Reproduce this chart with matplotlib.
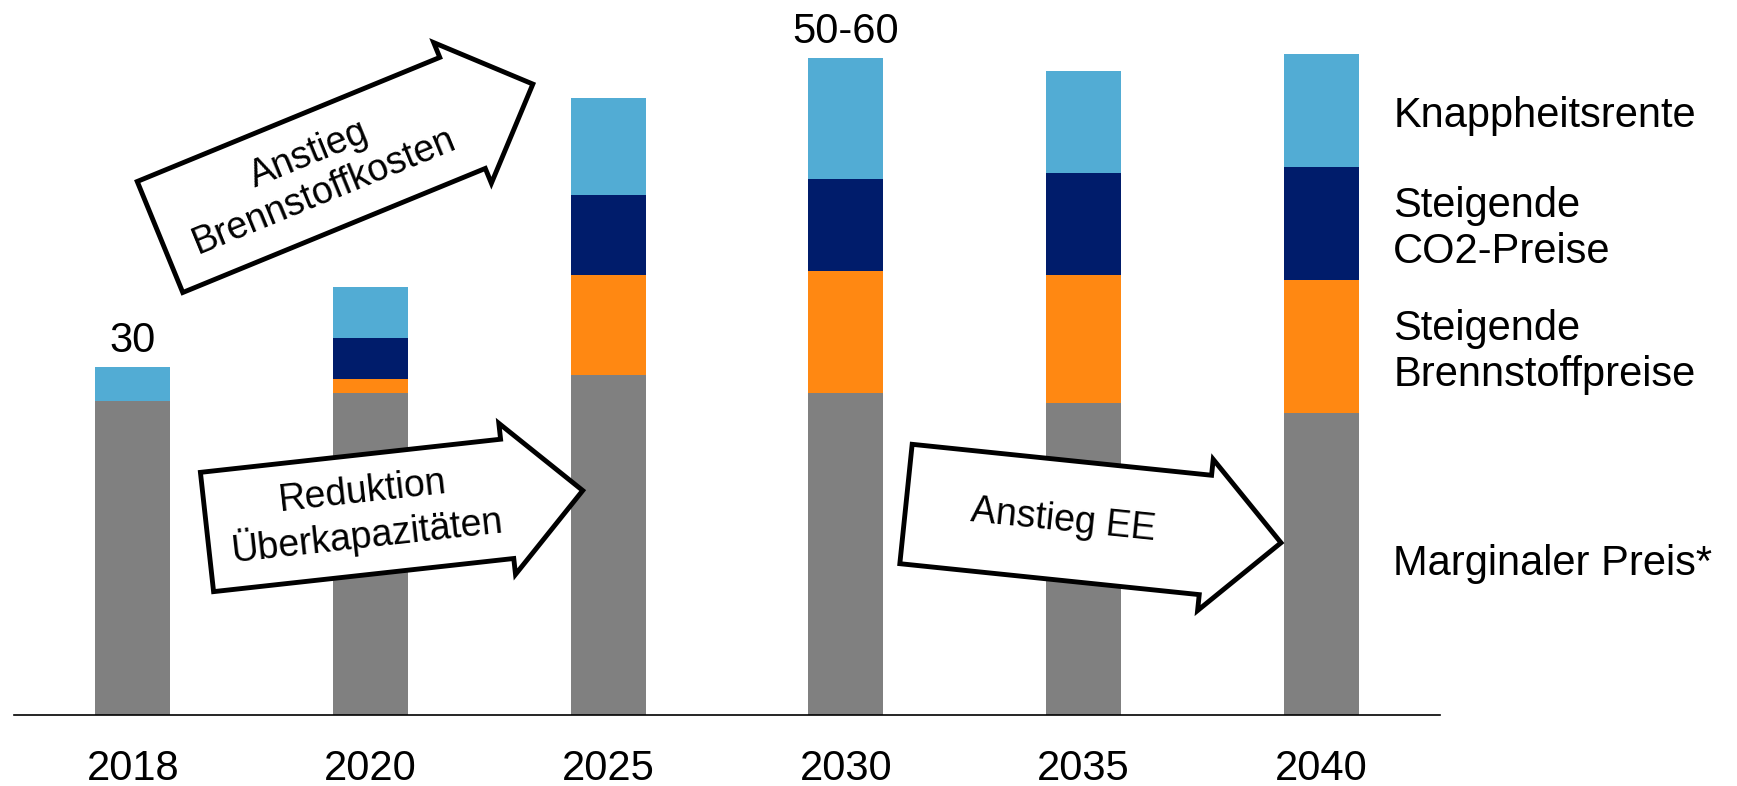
import math

import matplotlib
matplotlib.use("Agg")
import matplotlib.pyplot as plt
from matplotlib.patches import Polygon
from matplotlib.transforms import Affine2D

plt.rcParams["font.family"] = ["Liberation Sans", "DejaVu Sans"]

# --- data -------------------------------------------------------------------
years = ["2018", "2020", "2025", "2030", "2035", "2040"]
marginal = [27.1, 27.8, 29.3, 27.8, 26.9, 26.0]
fuel = [0.0, 1.2, 8.6, 10.5, 11.0, 11.5]
co2 = [0.0, 3.5, 6.9, 7.9, 8.8, 9.7]
scarcity = [2.9, 4.4, 8.4, 10.4, 8.8, 9.8]

series_labels = [
    "Marginaler Preis*",
    "Steigende\nBrennstoffpreise",
    "Steigende\nCO2-Preise",
    "Knappheitsrente",
]
series_colors = ["#808080", "#FF8812", "#001C6B", "#52ACD4"]

top_labels = {0: "30", 3: "50-60"}

# block arrows: text, tail centre (px from top-left), length, angle (deg)
arrows = [
    ("Anstieg\nBrennstoffkosten", (160, 237), 403, 22.3),
    ("Reduktion\nÜberkapazitäten", (207, 532), 378, 6.3),
    ("Anstieg EE", (906, 504), 377, -5.9),
]

W, H, DPI = 1737, 786, 100
BAR_W = 0.315


def block_arrow_points(tail, length, angle, shaft_w=120, head_w=152, head_len=76):
    a = math.radians(angle)
    u = (math.cos(a), -math.sin(a))
    n = (math.sin(a), math.cos(a))
    local = [
        (0, -shaft_w / 2),
        (length - head_len, -shaft_w / 2),
        (length - head_len, -head_w / 2),
        (length, 0),
        (length - head_len, head_w / 2),
        (length - head_len, shaft_w / 2),
        (0, shaft_w / 2),
    ]
    return [(tail[0] + s * u[0] + t * n[0], tail[1] + s * u[1] + t * n[1]) for s, t in local]


fig = plt.figure(figsize=(W / DPI, H / DPI), dpi=DPI)
ax = fig.add_axes([14 / W, (H - 715.3) / H, 1426 / W, 696.6 / H])

x = list(range(len(years)))
bottom = [0.0] * len(years)
for values, color in zip([marginal, fuel, co2, scarcity], series_colors):
    ax.bar(x, values, width=BAR_W, bottom=bottom, color=color, linewidth=0, zorder=2)
    bottom = [b + v for b, v in zip(bottom, values)]

ax.set_xlim(-0.5, len(years) - 0.5)
ax.set_ylim(0, 60)
for side in ["top", "right", "left"]:
    ax.spines[side].set_visible(False)
ax.spines["bottom"].set_linewidth(1.2)
ax.spines["bottom"].set_zorder(3)
ax.set_yticks([])
ax.set_xticks(x)
ax.set_xticklabels(years, fontsize=30)
ax.tick_params(axis="x", length=0, pad=24)

for i, label in top_labels.items():
    ax.annotate(label, xy=(i, bottom[i]), xytext=(0, 11), textcoords="offset points",
                ha="center", va="baseline", fontsize=30)

# series labels next to the last bar, centred on its segments
last = len(years) - 1
cum = 0.0
for k, (values, label) in enumerate(zip([marginal, fuel, co2, scarcity], series_labels)):
    mid = cum + values[last] / 2
    cum += values[last]
    dy = 0 if k == 0 else -4
    ax.annotate(label, xy=(last + BAR_W / 2, mid), xytext=(25, dy),
                textcoords="offset points", ha="left", va="center",
                fontsize=30, linespacing=1.2, annotation_clip=False)

# arrows in pixel coordinates (origin top-left)
px = Affine2D().scale(1 / W, -1 / H).translate(0, 1) + fig.transFigure
for text, tail, length, angle in arrows:
    pts = block_arrow_points(tail, length, angle)
    poly = Polygon(pts, closed=True, facecolor="white", edgecolor="black",
                   linewidth=3.5, joinstyle="miter", transform=px, zorder=5)
    fig.add_artist(poly)
    a = math.radians(angle)
    s = 0.42 * length
    cx, cy = tail[0] + s * math.cos(a), tail[1] - s * math.sin(a)
    fig.text(cx, cy, text, transform=px, rotation=angle, rotation_mode="anchor",
             ha="center", va="center", multialignment="center",
             fontsize=27, linespacing=1.15, zorder=6)

fig.savefig("out.png", dpi=DPI)
